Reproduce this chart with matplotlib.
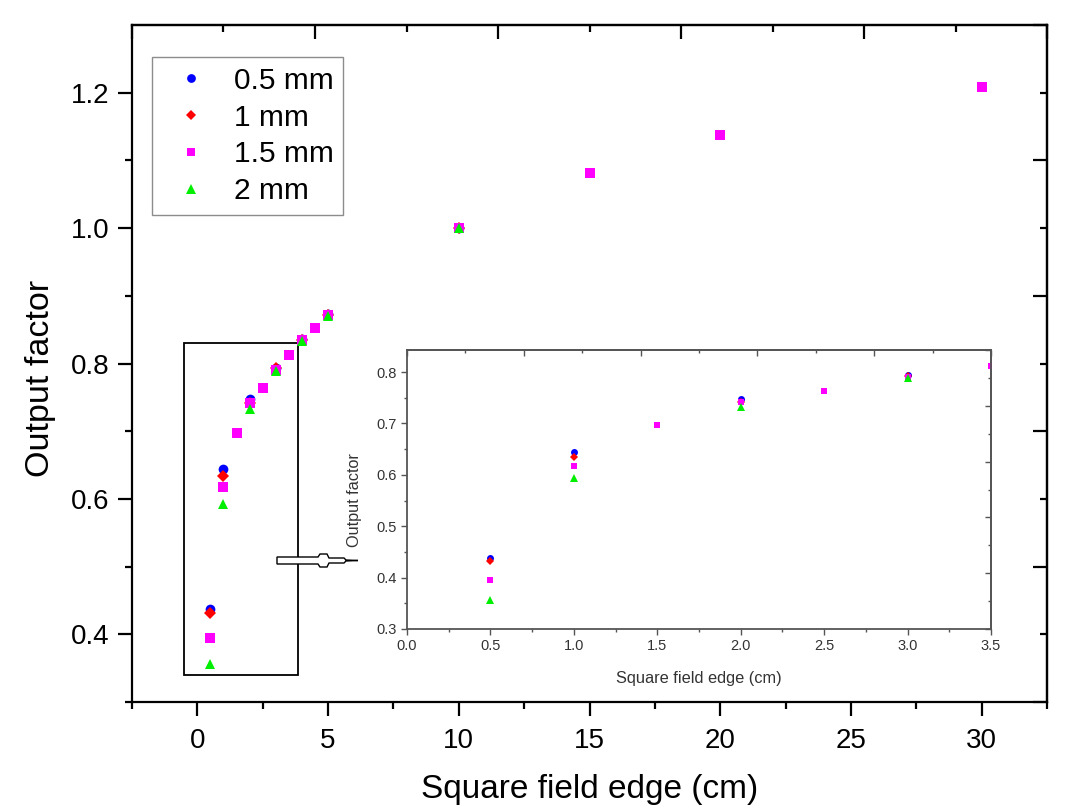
import numpy as np
import matplotlib
matplotlib.use("Agg")
import matplotlib.pyplot as plt
from matplotlib.patches import Rectangle, Polygon

plt.rcParams['font.family'] = ['Liberation Sans', 'DejaVu Sans']

# field edge (cm) and output factors for the four detector sizes
x_common = [0.5, 1, 2, 3, 4, 5, 10]
of_05mm = [0.438, 0.644, 0.747, 0.794, 0.836, 0.873, 1.0]
of_1mm = [0.432, 0.634, 0.742, 0.793, 0.835, 0.872, 1.0]
x_15mm = [0.5, 1, 1.5, 2, 2.5, 3, 3.5, 4, 4.5, 5, 10, 15, 20, 30]
of_15mm = [0.395, 0.617, 0.697, 0.742, 0.764, 0.790, 0.812, 0.835, 0.853,
           0.872, 1.0, 1.081, 1.137, 1.208]
of_2mm = [0.356, 0.593, 0.733, 0.789, 0.833, 0.870, 1.0]

series = [
    ("0.5 mm", x_common, of_05mm, "o", "#0000ff"),
    ("1 mm", x_common, of_1mm, "D", "#ff0000"),
    ("1.5 mm", x_15mm, of_15mm, "s", "#ff00ff"),
    ("2 mm", x_common, of_2mm, "^", "#00ee00"),
]
msize_main = {"o": 7, "D": 6, "s": 6.5, "^": 7.5}
msize_in = {"o": 5, "D": 4.3, "s": 4.7, "^": 5.5}

W, H = 1067, 811
fig = plt.figure(figsize=(W / 100, H / 100), dpi=100)

# ---- main axes ----
ax = fig.add_axes([132 / W, 1 - 702 / H, (1047 - 132) / W, (702 - 25) / H])
for lab, xs, ys, m, c in series:
    ax.plot(xs, ys, linestyle="none", marker=m, color=c,
            markersize=msize_main[m], markeredgewidth=0, label=lab)

ax.set_xlim(-2.5, 32.5)
ax.set_ylim(0.3, 1.3)
ax.set_xticks(np.arange(0, 31, 5))
ax.set_xticks(np.arange(-2.5, 33, 5), minor=True)
ax.set_yticks([0.4, 0.6, 0.8, 1.0, 1.2])
ax.set_yticks([0.3, 0.5, 0.7, 0.9, 1.1], minor=True)
ax.set_yticklabels(["0.4", "0.6", "0.8", "1.0", "1.2"])
ax.tick_params(which="both", direction="out", width=1.6, labelsize=20,
               pad=6)
ax.tick_params(axis="x", which="both", pad=9)
ax.tick_params(which="major", length=10)
ax.tick_params(which="minor", length=5)
for s in ax.spines.values():
    s.set_linewidth(1.6)

# mirrored top/right axes with their own tick spacing
top = ax.secondary_xaxis("top")
xt = np.linspace(-2.5, 32.5, 11)
top.set_xticks(xt[::2])
top.set_xticks(xt[1::2], minor=True)
top.tick_params(which="both", direction="in", width=1.6, labeltop=False)
top.tick_params(which="major", length=10)
top.tick_params(which="minor", length=5)
top.spines["top"].set_linewidth(1.6)
right = ax.secondary_yaxis("right")
yt = np.linspace(0.3, 1.3, 11)
right.set_yticks(yt[::2])
right.set_yticks(yt[1::2], minor=True)
right.tick_params(which="both", direction="in", width=1.6, labelright=False)
right.tick_params(which="major", length=10)
right.tick_params(which="minor", length=5)
right.spines["right"].set_linewidth(1.6)

ax.set_xlabel("Square field edge (cm)", fontsize=24)
ax.set_ylabel("Output factor", fontsize=24.5)
ax.xaxis.set_label_coords(0.5, -0.107)
ax.yaxis.set_label_coords(-0.083, 0.478)

leg = ax.legend(loc="upper left", bbox_to_anchor=(152 / W, 1 - 57 / H),
                bbox_transform=fig.transFigure, fontsize=21.5, frameon=True,
                fancybox=False, edgecolor="#707070", handlelength=1.95,
                handletextpad=0.47, labelspacing=0.3, borderpad=0.32,
                borderaxespad=0, markerscale=0.9)
leg.get_frame().set_linewidth(1.0)

# zoom box around the small fields
ax.add_patch(Rectangle((-0.5, 0.34), 4.35, 0.49, fill=False,
                       edgecolor="black", linewidth=1.3, zorder=1))

# hollow arrow pointing to the inset (figure pixels)
arrow_px = [(277, 557), (318, 557), (320, 554), (327, 554), (329, 558),
            (344, 558), (346, 560), (358, 560.5), (346, 561), (344, 563),
            (329, 563), (327, 567), (320, 567), (318, 564), (277, 564)]
arrow = Polygon([(px / W, 1 - py / H) for px, py in arrow_px], closed=True,
                facecolor="white", edgecolor="black", linewidth=1.0,
                transform=fig.transFigure, zorder=5)
fig.patches.append(arrow)

# ---- inset ----
ins = fig.add_axes([407 / W, 1 - 629 / H, (991 - 407) / W, (629 - 350) / H])
for lab, xs, ys, m, c in series:
    ins.plot(xs, ys, linestyle="none", marker=m, color=c,
             markersize=msize_in[m], markeredgewidth=0)
ins.set_xlim(0, 3.5)
ins.set_ylim(0.3, 0.843)
ins.set_xticks(np.arange(0, 3.51, 0.5))
ins.set_xticks(np.arange(0.25, 3.5, 0.5), minor=True)
ins.set_xticklabels(["0.0", "0.5", "1.0", "1.5", "2.0", "2.5", "3.0", "3.5"])
ins.set_yticks(np.arange(0.3, 0.81, 0.1))
ins.set_yticks(np.arange(0.35, 0.84, 0.1), minor=True)
ins.set_yticklabels(["0.3", "0.4", "0.5", "0.6", "0.7", "0.8"])
gray = "#555555"
ins.tick_params(which="both", direction="out", width=1.0, labelsize=10.5,
                colors=gray, labelcolor="#333333", pad=3)
ins.tick_params(which="major", length=4.5)
ins.tick_params(which="minor", length=2.5)
for s in ins.spines.values():
    s.set_linewidth(1.3)
    s.set_color(gray)

itop = ins.secondary_xaxis("top")
ixt = np.linspace(0, 3.5, 11)
itop.set_xticks(ixt[::2])
itop.set_xticks(ixt[1::2], minor=True)
itop.tick_params(which="both", direction="in", width=1.0, colors=gray,
                 labeltop=False)
itop.tick_params(which="major", length=4.5)
itop.tick_params(which="minor", length=2.5)
itop.spines["top"].set_color(gray)
itop.spines["top"].set_linewidth(1.3)
iright = ins.secondary_yaxis("right")
iyt = np.linspace(0.3, 0.843, 11)
iright.set_yticks(iyt[::2])
iright.set_yticks(iyt[1::2], minor=True)
iright.tick_params(which="both", direction="in", width=1.0, colors=gray,
                   labelright=False)
iright.tick_params(which="major", length=4.5)
iright.tick_params(which="minor", length=2.5)
iright.spines["right"].set_color(gray)
iright.spines["right"].set_linewidth(1.3)

ins.set_xlabel("Square field edge (cm)", fontsize=11.8, color="#333333")
ins.set_ylabel("Output factor", fontsize=11.7, color="#333333")
ins.xaxis.set_label_coords(0.5, -0.15)
ins.yaxis.set_label_coords(-0.077, 0.462)

fig.savefig("out.png", dpi=100)
